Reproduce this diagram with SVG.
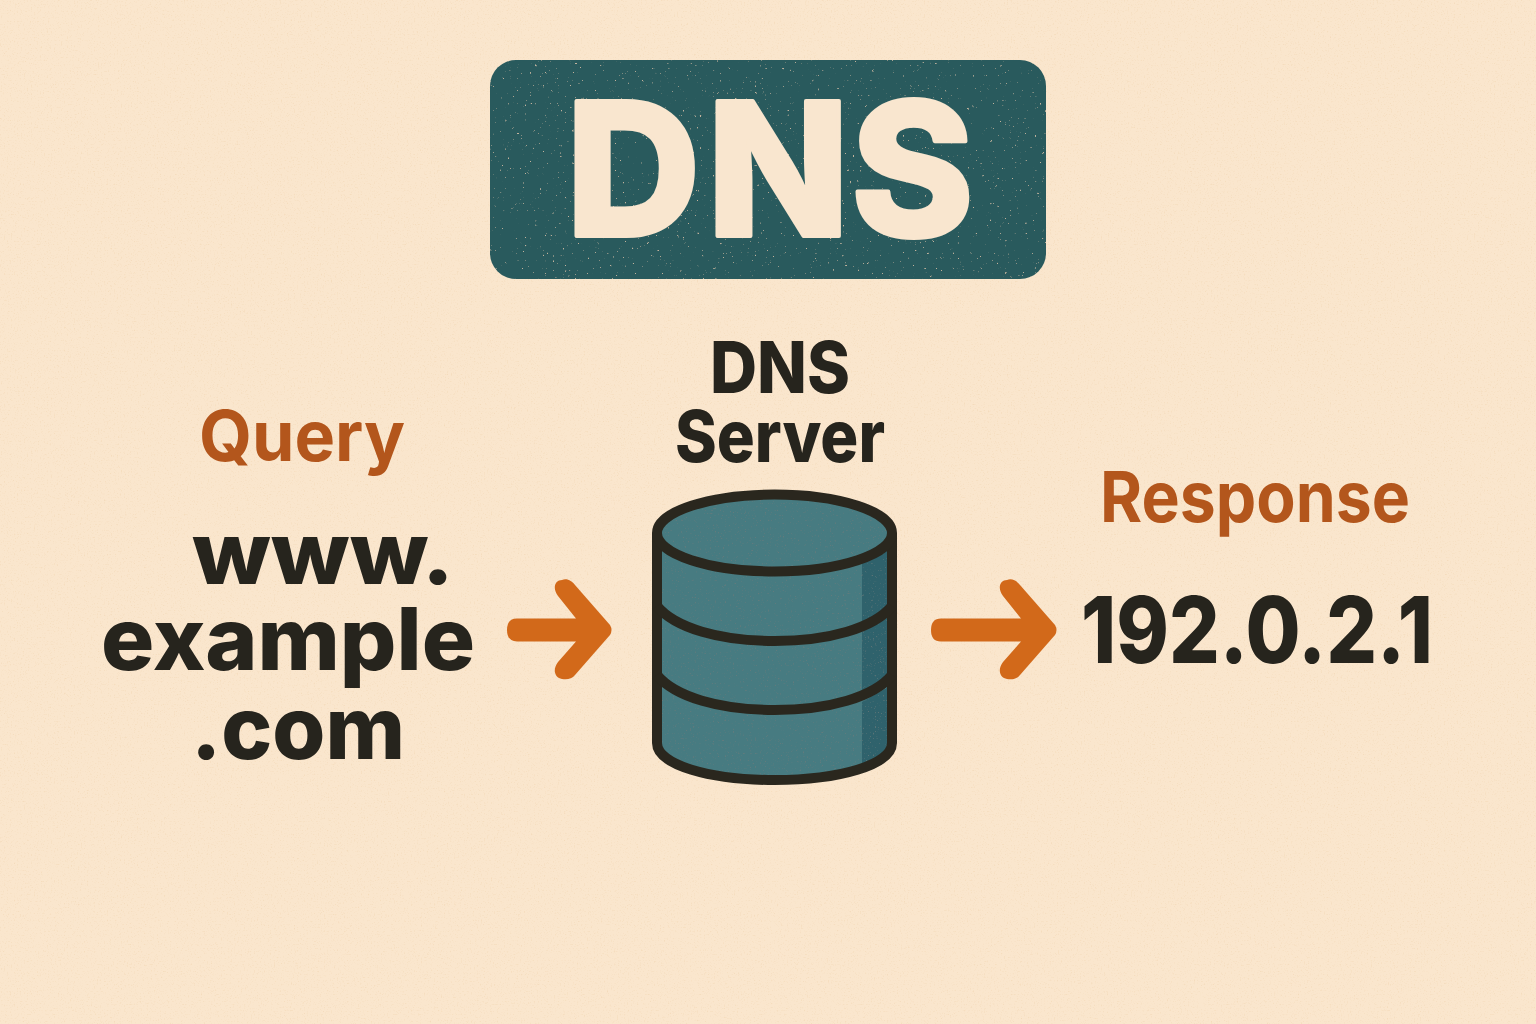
<svg xmlns="http://www.w3.org/2000/svg" width="1536" height="1024" viewBox="0 0 1536 1024">
<defs>
<filter id="grain" x="0" y="0" width="100%" height="100%"><feTurbulence type="fractalNoise" baseFrequency="0.7" numOctaves="2" seed="4"/><feColorMatrix values="0 0 0 0 0.85 0 0 0 0 0.62 0 0 0 0 0.38 0 0 0 2.6 -1.45"/></filter>
<filter id="speck" x="0" y="0" width="100%" height="100%"><feTurbulence type="fractalNoise" baseFrequency="0.4" numOctaves="3" seed="9"/><feColorMatrix values="0 0 0 0 0.8 0 0 0 0 0.58 0 0 0 0 0.42 0 0 0 9 -6.6"/><feComposite in2="SourceAlpha" operator="in"/></filter>
<filter id="speckdark" x="0" y="0" width="100%" height="100%"><feTurbulence type="fractalNoise" baseFrequency="0.6" numOctaves="2" seed="3"/><feColorMatrix values="0 0 0 0 0.15 0 0 0 0 0.2 0 0 0 0 0.2 0 0 0 6 -3.9"/><feComposite in2="SourceAlpha" operator="in"/></filter>
</defs>
<style>
text{font-family:Inter,"Noto Sans","Liberation Sans",sans-serif;font-weight:700;text-anchor:middle}
.ink{fill:#26241d;font-weight:800}
.lab{fill:#b3561c}
.line{fill:none;stroke:#2a271e;stroke-width:10}
.arrow{fill:#d2691a}
</style>
<rect width="1536" height="1024" fill="#fae6cd"/>
<rect width="1536" height="1024" filter="url(#grain)" opacity=".5"/>
<g id="title"><rect x="490" y="60" width="556" height="219" rx="26" fill="#295a5d"/>
<rect x="490" y="60" width="556" height="219" rx="26" filter="url(#speck)" opacity=".8"/>
<text x="566 707 851" y="236" font-size="186" style="font-weight:800;text-anchor:start" fill="#f9e6cf" stroke="#f9e6cf" stroke-width="4" stroke-linejoin="round">DNS</text></g>
<g id="query"><text class="lab" x="302" y="461" font-size="70" textLength="206" lengthAdjust="spacingAndGlyphs">Query</text>
<text class="ink" x="323" y="584" font-size="86" textLength="262" lengthAdjust="spacingAndGlyphs">www.</text>
<text class="ink" x="288" y="670" font-size="86" textLength="374" lengthAdjust="spacingAndGlyphs">example</text>
<text class="ink" x="298" y="759" font-size="86" textLength="214" lengthAdjust="spacingAndGlyphs">.com</text></g>
<g id="server"><text class="ink" x="780" y="393" font-size="72" textLength="140" lengthAdjust="spacingAndGlyphs">DNS</text>
<text class="ink" x="780" y="462" font-size="72" textLength="210" lengthAdjust="spacingAndGlyphs">Server</text>
<path d="M657 533V743C657 765 710 780 774 780S892 765 892 743V533Z" fill="#477b81"/>
<path d="M862 563 892 545V600C885 610 875 618 862 623ZM862 632 892 615V670C885 680 875 688 862 692ZM862 702 892 685V743C885 755 875 762 862 767Z" fill="#2f626c"/>
<ellipse cx="774.500" cy="533" rx="117.500" ry="38.500" fill="#477b81"/>
<path d="M657 533V743C657 765 710 780 774 780S892 765 892 743V533C892 512 840 495 774 495S657 512 657 533Z" filter="url(#speckdark)" opacity=".7"/>
<path class="line" d="M657 533V743C657 765 710 780 774.500 780S892 765 892 743V533"/>
<ellipse class="line" cx="774.500" cy="533" rx="117.500" ry="38.500"/>
<path class="line" d="M657 606C675 628 720 641 774.500 641S874 628 892 606"/>
<path class="line" d="M657 675C675 697 720 710 774.500 710S874 697 892 675"/></g>
<g id="connectors">
<path class="arrow" d="M517 618.500H576L558 596C552 588 555 580 562 580C567 578 572 581 575 585L610 625Q613 630 610 635L575 675C572 679 567 680 562 679C555 678 552 670 558 662L576 641.500H517Q507 641.500 507 630Q507 618.500 517 618.500Z"/>
<path class="arrow" d="M941 618.500H1021L1003 596C997 588 1000 580 1007 580C1012 578 1017 581 1020 585L1055 625Q1058 630 1055 635L1020 675C1017 679 1012 680 1007 679C1000 678 997 670 1003 662L1021 641.500H941Q931 641.500 931 630Q931 618.500 941 618.500Z"/></g>
<g id="response"><text class="lab" x="1255" y="522" font-size="70" textLength="310" lengthAdjust="spacingAndGlyphs">Response</text>
<text class="ink" x="1257" y="663" font-size="92" textLength="352" lengthAdjust="spacingAndGlyphs">192.0.2.1</text></g>
</svg>
